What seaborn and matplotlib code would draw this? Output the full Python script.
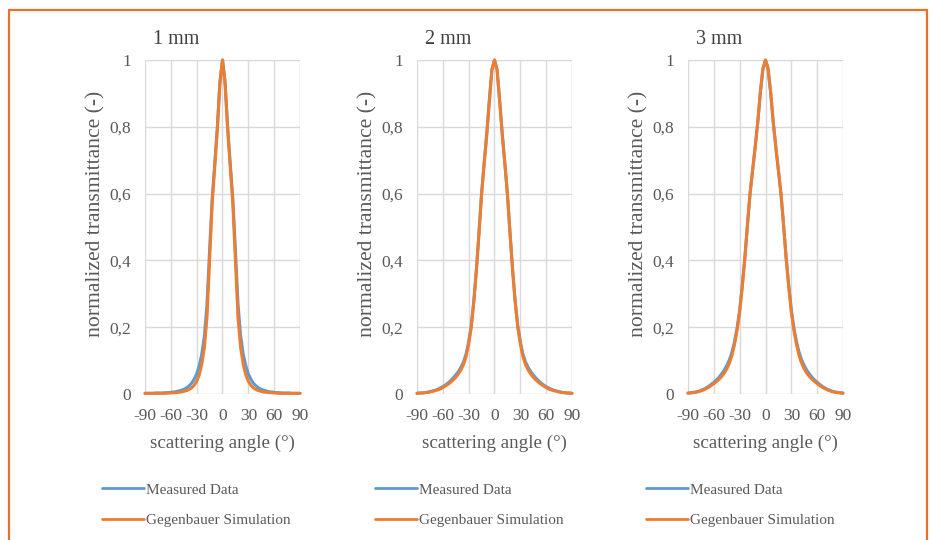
import matplotlib
matplotlib.use("Agg")
import matplotlib.pyplot as plt
from matplotlib.lines import Line2D
import pandas as pd
import seaborn as sns

# Scattering angle grid (degrees)
angles = list(range(-90, 91, 3))

panel_titles = ["1 mm", "2 mm", "3 mm"]
series_names = ["Measured Data", "Gegenbauer Simulation"]
x_ticks = [-90, -60, -30, 0, 30, 60, 90]
y_ticks = [0, 0.2, 0.4, 0.6, 0.8, 1]
y_tick_labels = ["0", "0,2", "0,4", "0,6", "0,8", "1"]

measured_1mm = [
    0.002, 0.002, 0.002, 0.002, 0.003, 0.003, 0.003, 0.003, 0.004, 0.004,
    0.005, 0.006, 0.007, 0.009, 0.011, 0.014, 0.018, 0.024, 0.032, 0.044,
    0.060, 0.085, 0.120, 0.175, 0.270, 0.430, 0.585, 0.690, 0.800, 0.935,
    1.000,
    0.935, 0.800, 0.690, 0.585, 0.430, 0.270, 0.175, 0.120, 0.085, 0.060,
    0.044, 0.032, 0.024, 0.018, 0.014, 0.011, 0.009, 0.007, 0.006, 0.005,
    0.004, 0.004, 0.003, 0.003, 0.003, 0.003, 0.002, 0.002, 0.002, 0.002,
]
simulation_1mm = [
    0.002, 0.002, 0.002, 0.002, 0.002, 0.002, 0.002, 0.002, 0.002, 0.003,
    0.003, 0.004, 0.004, 0.005, 0.006, 0.008, 0.010, 0.013, 0.018, 0.026,
    0.038, 0.057, 0.090, 0.140, 0.230, 0.400, 0.570, 0.680, 0.790, 0.930,
    1.000,
    0.930, 0.790, 0.680, 0.570, 0.400, 0.230, 0.140, 0.090, 0.057, 0.038,
    0.026, 0.018, 0.013, 0.010, 0.008, 0.006, 0.005, 0.004, 0.004, 0.003,
    0.003, 0.002, 0.002, 0.002, 0.002, 0.002, 0.002, 0.002, 0.002, 0.002,
]
measured_2mm = [
    0.002, 0.003, 0.003, 0.004, 0.005, 0.007, 0.009, 0.011, 0.014, 0.018,
    0.022, 0.027, 0.033, 0.040, 0.048, 0.057, 0.067, 0.080, 0.096, 0.120,
    0.156, 0.205, 0.280, 0.375, 0.485, 0.600, 0.692, 0.780, 0.880, 0.972,
    1.000,
    0.972, 0.880, 0.780, 0.692, 0.600, 0.485, 0.375, 0.280, 0.205, 0.156,
    0.120, 0.096, 0.080, 0.067, 0.057, 0.048, 0.040, 0.033, 0.027, 0.022,
    0.018, 0.014, 0.011, 0.009, 0.007, 0.005, 0.004, 0.003, 0.003, 0.002,
]
simulation_2mm = [
    0.002, 0.003, 0.003, 0.004, 0.005, 0.006, 0.008, 0.010, 0.012, 0.015,
    0.019, 0.024, 0.029, 0.035, 0.042, 0.050, 0.060, 0.072, 0.088, 0.112,
    0.150, 0.200, 0.275, 0.370, 0.480, 0.598, 0.690, 0.775, 0.875, 0.970,
    1.000,
    0.970, 0.875, 0.775, 0.690, 0.598, 0.480, 0.370, 0.275, 0.200, 0.150,
    0.112, 0.088, 0.072, 0.060, 0.050, 0.042, 0.035, 0.029, 0.024, 0.019,
    0.015, 0.012, 0.010, 0.008, 0.006, 0.005, 0.004, 0.003, 0.003, 0.002,
]
measured_3mm = [
    0.003, 0.004, 0.005, 0.006, 0.008, 0.011, 0.014, 0.018, 0.023, 0.029,
    0.035, 0.042, 0.050, 0.060, 0.071, 0.085, 0.102, 0.125, 0.157, 0.198,
    0.252, 0.325, 0.408, 0.505, 0.598, 0.668, 0.738, 0.812, 0.900, 0.972,
    1.000,
    0.972, 0.900, 0.812, 0.738, 0.668, 0.598, 0.505, 0.408, 0.325, 0.252,
    0.198, 0.157, 0.125, 0.102, 0.085, 0.071, 0.060, 0.050, 0.042, 0.035,
    0.029, 0.023, 0.018, 0.014, 0.011, 0.008, 0.006, 0.005, 0.004, 0.003,
]
simulation_3mm = [
    0.002, 0.003, 0.004, 0.005, 0.007, 0.009, 0.012, 0.016, 0.020, 0.025,
    0.031, 0.037, 0.044, 0.052, 0.062, 0.075, 0.092, 0.115, 0.148, 0.190,
    0.245, 0.320, 0.405, 0.505, 0.600, 0.670, 0.740, 0.815, 0.905, 0.975,
    1.000,
    0.975, 0.905, 0.815, 0.740, 0.670, 0.600, 0.505, 0.405, 0.320, 0.245,
    0.190, 0.148, 0.115, 0.092, 0.075, 0.062, 0.052, 0.044, 0.037, 0.031,
    0.025, 0.020, 0.016, 0.012, 0.009, 0.007, 0.005, 0.004, 0.003, 0.002,
]

panel_data = [
    (measured_1mm, simulation_1mm),
    (measured_2mm, simulation_2mm),
    (measured_3mm, simulation_3mm),
]

colors = {"Measured Data": "#5B9BD5", "Gegenbauer Simulation": "#ED7D31"}
text_gray = "#595959"
grid_gray = "#D9D9D9"

sns.set_theme(style="whitegrid")
plt.rcParams["font.family"] = ["Liberation Serif", "DejaVu Serif"]

W, H = 931, 540
fig = plt.figure(figsize=(W / 100, H / 100), dpi=100)
fig.patch.set_facecolor("white")

axes_left_px = [145, 417, 688]
axes_top_px, axes_bottom_px, axes_width_px = 60, 394, 155
axes_height_px = axes_bottom_px - axes_top_px
legend_left_px = [102, 375, 646]

for i, (title, (meas, sim)) in enumerate(zip(panel_titles, panel_data)):
    left = axes_left_px[i]
    ax = fig.add_axes([left / W, 1 - axes_bottom_px / H,
                       axes_width_px / W, axes_height_px / H])
    df = pd.DataFrame({
        "angle": angles * 2,
        "value": meas + sim,
        "series": [series_names[0]] * len(angles) + [series_names[1]] * len(angles),
    })
    sns.lineplot(data=df, x="angle", y="value", hue="series",
                 hue_order=series_names, palette=colors, ax=ax,
                 legend=False, estimator=None, sort=False, linewidth=2.2)
    for ln in ax.get_lines():
        ln.set_clip_on(False)
        ln.set_solid_capstyle("round")
        ln.set_solid_joinstyle("round")

    ax.set_xlim(-90, 90)
    ax.set_ylim(0, 1)
    ax.set_xticks(x_ticks)
    ax.set_xticklabels([str(t) for t in x_ticks])
    ax.set_yticks(y_ticks)
    ax.set_yticklabels(y_tick_labels)
    ax.set_facecolor("white")
    ax.grid(True, color=grid_gray, linewidth=1.0)
    for s in ax.spines.values():
        s.set_visible(False)
    ax.tick_params(axis="both", length=0, labelsize=12.5, colors=text_gray)
    ax.tick_params(axis="y", pad=10)
    ax.tick_params(axis="x", pad=10)
    ax.set_xlabel("scattering angle (°)", fontsize=13.7, color=text_gray)
    ax.xaxis.set_label_coords(0.5, -(443 - axes_bottom_px) / axes_height_px)
    ax.xaxis.label.set_va("center")
    ax.set_ylabel("normalized transmittance (-)", fontsize=15.6, color=text_gray)
    ax.yaxis.set_label_coords(-49 / axes_width_px,
                              (axes_bottom_px - 214) / axes_height_px)
    ax.yaxis.label.set_va("center")
    ax.text(8 / axes_width_px, 1 + 20 / axes_height_px, title,
            transform=ax.transAxes, fontsize=14.5, color="#404040",
            ha="left", va="center")

    handles = [Line2D([], [], color=colors[n], linewidth=2.0) for n in series_names]
    fig.legend(handles, series_names, loc="upper left",
               bbox_to_anchor=(legend_left_px[i] / W, 1 - 483 / H),
               frameon=False, fontsize=11, handlelength=2.75,
               handletextpad=0.1, labelspacing=1.1, borderpad=0,
               borderaxespad=0, labelcolor=text_gray)

# Orange frame around the figure (open at the bottom)
frame_color = "#E9702F"
x0, x1, y0 = 9 / W, 927 / W, 1 - 10 / H
for xs, ys in [([x0, x1], [y0, y0]), ([x0, x0], [y0, 0]), ([x1, x1], [y0, 0])]:
    fig.add_artist(Line2D(xs, ys, transform=fig.transFigure,
                          color=frame_color, linewidth=1.6))

fig.savefig("out.png", dpi=100, facecolor="white")
